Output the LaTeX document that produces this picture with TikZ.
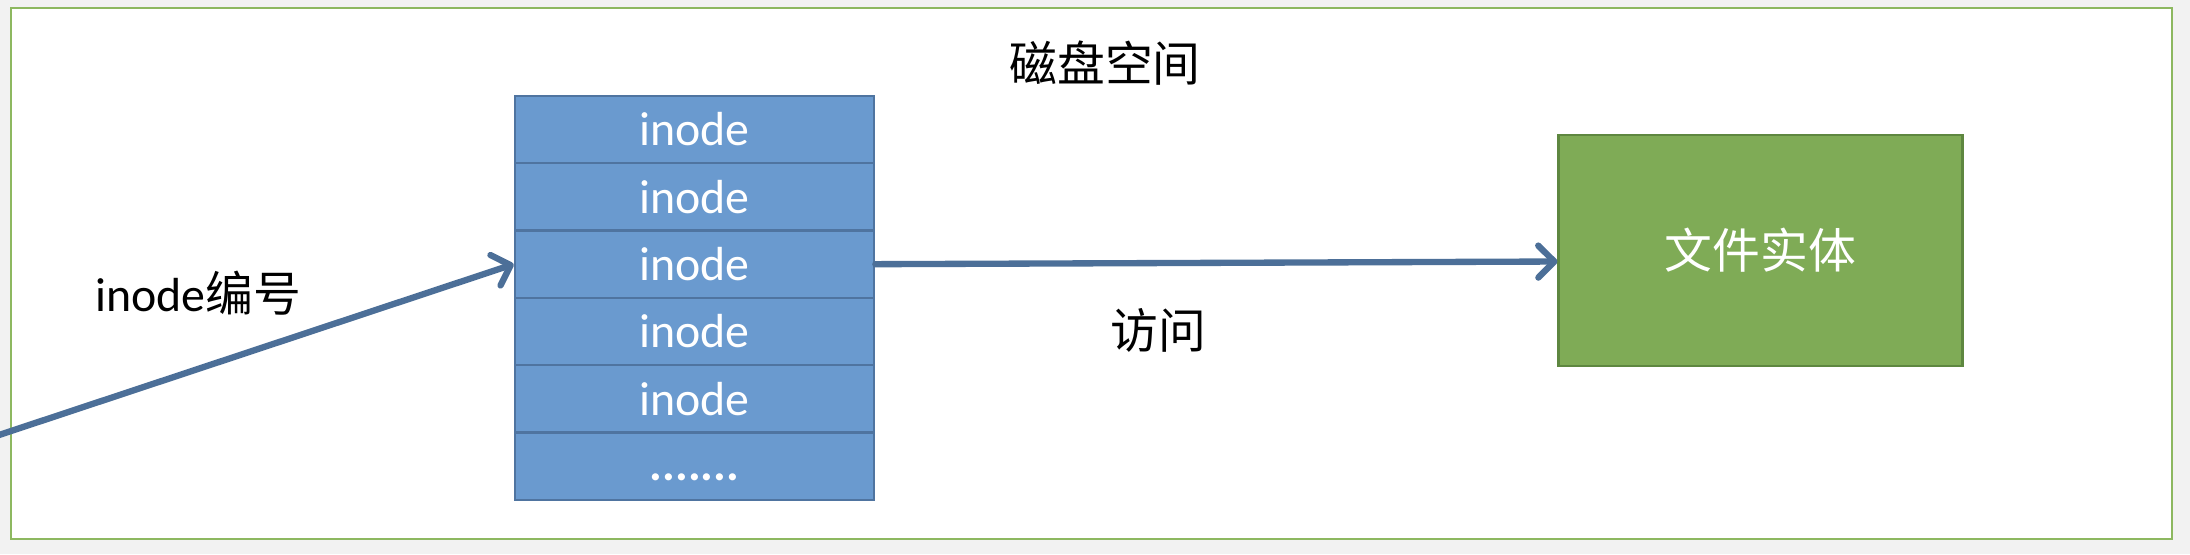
\documentclass[tikz,border=0pt]{standalone}
\usepackage{fontspec}
\setmainfont{Carlito}
\newfontfamily\cjk{Noto Sans CJK SC}
\usepackage{tikz}
\usetikzlibrary{arrows.meta, positioning}
\definecolor{cellfill}{HTML}{6A9ACF}
\definecolor{celldraw}{HTML}{4F74A0}
\definecolor{arrowblue}{HTML}{4C6F98}
\definecolor{filefill}{HTML}{7FAB56}
\definecolor{filedraw}{HTML}{5E8740}
\definecolor{framegreen}{HTML}{8DB860}
\definecolor{pagegray}{HTML}{F2F2F2}
\tikzset{node distance = 0.673cm, on grid,
         >= {Straight Barb[length = 0.16cm, width = 0.32cm, round]},
         every node/.style = {font = \fontsize{13.6pt}{16pt}\selectfont},
         cell/.style = {draw = celldraw, fill = cellfill, line width = 0.7pt,
                        minimum width = 3.59cm, minimum height = 0.673cm,
                        inner sep = 0pt, text = white},
         entity/.style = {draw = filedraw, fill = filefill, line width = 0.8pt,
                          minimum width = 4.03cm, minimum height = 2.31cm,
                          inner sep = 0pt, text = white},
         link/.style = {->, draw = arrowblue, line width = 1.8pt, line cap = round}}

\begin{document}
\begin{tikzpicture}[x = 0.01cm, y = -0.01cm]
        \fill[pagegray] (0,0) rectangle (2190,554);
        \clip (0,0) rectangle (2190,554);
        \draw[framegreen, fill = white, line width = 0.8pt] (11,8) rectangle (2172,539);

        \node                  (disk) at (1105,63)   {\cjk 磁盘空间};
        \node[cell]            (c1) at (694.5,129.5) {inode};
        \node[cell, below = of c1] (c2)              {inode};
        \node[cell, below = of c2] (c3)              {inode};
        \node[cell, below = of c3] (c4)              {inode};
        \node[cell, below = of c4] (c5)              {inode};
        \node[cell, below = of c5] (c6)              {\raisebox{-0.28cm}{\textbf{.......}}};

        \node[entity]          (file) at (1760.5,250.5) {\cjk 文件实体};
        \coordinate            (src)  at (-10,438);

        \node                  (num)  at (198,293)   {inode{\cjk 编号}};
        \node                  (visit) at (1158,330) {\cjk 访问};

        \draw[link]            (src) -- (c3.west);
        \draw[link]            (c3.east) -- ([yshift = -0.11cm]file.west);
    \end{tikzpicture}
\end{document}
